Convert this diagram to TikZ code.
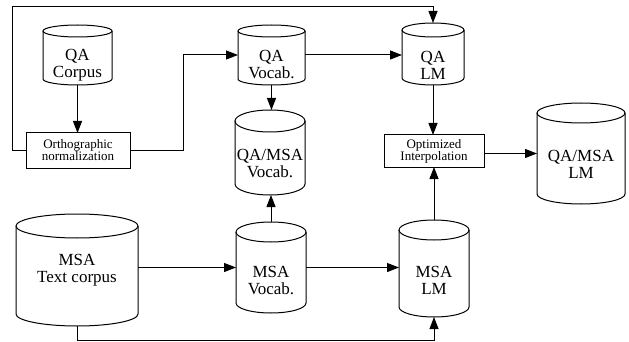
\documentclass[tikz,border=0pt]{standalone}
\usepackage{fontspec}
\setmainfont{Liberation Serif}
\usetikzlibrary{arrows.meta}

% outline of a vertical cylinder around the invisible node #1
% #2 = half width (pt), #3 = vertical radius of the end ellipses (pt)
\newcommand\cylout[3]{%
  \draw[cylline] ([yshift=-#3pt]#1.north) ellipse [x radius=#2pt, y radius=#3pt];
  \draw[cylline] ([yshift=-#3pt]#1.north west) -- ([yshift=#3pt]#1.south west)
    arc [start angle=180, end angle=360, x radius=#2pt, y radius=#3pt]
    -- ([yshift=-#3pt]#1.north east);
}

\tikzset{
  cyl/.style={draw=none, inner sep=0pt, outer sep=0pt},
  cylline/.style={line width=1pt},
  big/.style={font=\fontsize{17}{17}\selectfont, align=center, inner sep=0pt},
  procbox/.style={draw, line width=1pt, inner sep=0pt, outer sep=0pt,
    font=\fontsize{13}{12}\selectfont, align=center},
  link/.style={line width=1pt, -{Triangle[length=12pt,width=9pt]}},
}

\begin{document}
\begin{tikzpicture}[x=1pt,y=-1pt]
\useasboundingbox (0,0) rectangle (629,342);

% data stores
\node[cyl, minimum width=69pt, minimum height=60pt]  (qac)   at (77.5,55)   {};
\node[cyl, minimum width=67pt, minimum height=60pt]  (qav)   at (271.5,55)  {};
\node[cyl, minimum width=62pt, minimum height=62pt]  (qalm)  at (433,54)    {};
\node[cyl, minimum width=70pt, minimum height=85pt]  (qamv)  at (270,152.5) {};
\node[cyl, minimum width=122pt, minimum height=112pt] (msatc) at (77,270)   {};
\node[cyl, minimum width=70pt, minimum height=91pt]  (msav)  at (271,267.5) {};
\node[cyl, minimum width=70pt, minimum height=97pt]  (msalm) at (434,268.5) {};
\node[cyl, minimum width=88pt, minimum height=101pt] (qamlm) at (581,153.5) {};

\cylout{qac}{34.5}{6}
\cylout{qav}{33.5}{6}
\cylout{qalm}{31}{7}
\cylout{qamv}{35}{11}
\cylout{msatc}{61}{12}
\cylout{msav}{35}{10}
\cylout{msalm}{35}{10}
\cylout{qamlm}{44}{10}

\node[big] (qac-t)   at (77.5,65)  {QA\\Corpus};
\node[big] (qav-t)   at (271.5,65) {QA\\Vocab.};
\node[big] (qalm-t)  at (433,65)   {QA\\LM};
\node[big] (qamv-t)  at (270,163.5) {QA/MSA\\Vocab.};
\node[big] (msatc-t) at (77,270.5)   {MSA\\Text corpus};
\node[big] (msav-t)  at (271,280)  {MSA\\Vocab.};
\node[big] (msalm-t) at (434,280)  {MSA\\LM};
\node[big] (qamlm-t) at (581,164.5) {QA/MSA\\LM};

% processing steps
\node[procbox, minimum width=104pt, minimum height=35pt] (orth) at (78,150.5)
  {Orthographic\\normalization};
\node[procbox, minimum width=100pt, minimum height=32pt] (oi) at (434,151)
  {Optimized\\Interpolation};

\coordinate (loop) at (12,7);

% connectors
\draw[link] (qac.south) -- (qac.south |- orth.north);
\draw[link] (orth.west) -| (loop) -| (qalm.north);
\draw[link] (orth.east) -- ++(53,0) |- (qav.west);
\draw[link] (qav.east) -- (qav.east -| qalm.west);
\draw[link] (qav.south) -- (qav.south |- qamv.north);
\draw[link] (qalm.south) -- (qalm.south |- oi.north);
\draw[link] (oi.east |- qamlm.west) -- (qamlm.west);
\draw[link] (msatc.east |- msav.west) -- (msav.west);
\draw[link] (msav.east) -- (msav.east -| msalm.west);
\draw[link] (msav.north) -- (msav.north |- qamv.south);
\draw[link] (msalm.north) -- (msalm.north |- oi.south);
\draw[link] (msatc.south) -- ++(0,14) -| (msalm.south);
\end{tikzpicture}
\end{document}
